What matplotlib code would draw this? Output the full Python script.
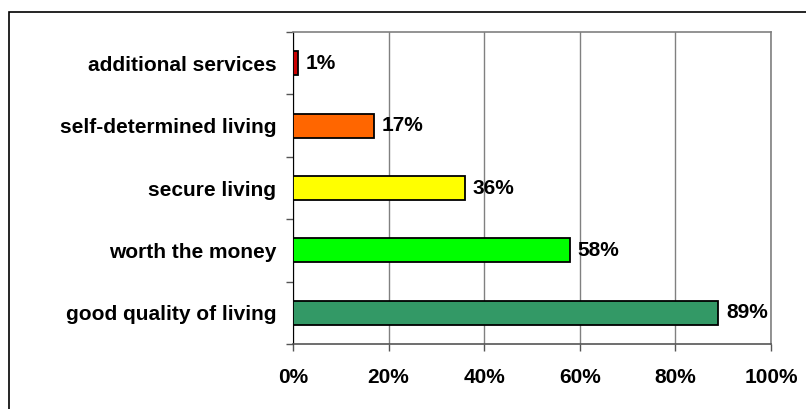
import matplotlib
matplotlib.use("Agg")
import matplotlib.pyplot as plt
from matplotlib.patches import Rectangle
from matplotlib.ticker import FixedLocator

categories = ["good quality of living", "worth the money", "secure living",
              "self-determined living", "additional services"]
values = [89, 58, 36, 17, 1]
colors = ["#339966", "#00FF00", "#FFFF00", "#FF6600", "#CC0000"]
xticks = [0, 20, 40, 60, 80, 100]
xtick_labels = ["0%", "20%", "40%", "60%", "80%", "100%"]

plt.rcParams["font.family"] = ["Liberation Sans", "DejaVu Sans"]
FS = 15

W, H = 806, 409
fig = plt.figure(figsize=(W / 100, H / 100), dpi=100)

# outer chart frame (runs off the right and bottom edges)
fig.patches.append(Rectangle((9 / W, -0.1), 1.2, (H - 12) / H + 0.1,
                             transform=fig.transFigure, fill=False,
                             edgecolor="black", linewidth=1.2, zorder=0))

left, right, top, bottom = 293, 771, 32, 344
ax = fig.add_axes([left / W, 1 - bottom / H, (right - left) / W, (bottom - top) / H])

y = list(range(len(categories)))
ax.barh(y, values, height=0.385, color=colors, edgecolor="black",
        linewidth=1.3, zorder=3)
for yi, v in zip(y, values):
    ax.annotate(f"{v}%", (v, yi), xytext=(5.5, 0), textcoords="offset points",
                va="center", ha="left", fontsize=FS, fontweight="bold")

ax.set_xlim(0, 100)
ax.set_ylim(-0.5, len(categories) - 0.5)
ax.set_xticks(xticks)
ax.set_xticklabels(xtick_labels, fontsize=FS, fontweight="bold")
ax.set_yticks(y)
ax.set_yticklabels(categories, fontsize=FS, fontweight="bold")
ax.tick_params(axis="y", length=0, pad=12)
ax.yaxis.set_minor_locator(FixedLocator([i - 0.5 for i in range(len(categories) + 1)]))
ax.tick_params(axis="y", which="minor", length=5, width=1, color="#555555")
ax.tick_params(axis="x", length=5, width=1, color="#555555", pad=12)

ax.grid(axis="x", color="#808080", linewidth=1, zorder=0)
for side in ["top", "right"]:
    ax.spines[side].set_color("#808080")
    ax.spines[side].set_linewidth(1.2)
ax.spines["left"].set_color("black")
ax.spines["bottom"].set_color("#555555")
ax.spines["bottom"].set_linewidth(1.2)

fig.savefig("out.png", dpi=100)
